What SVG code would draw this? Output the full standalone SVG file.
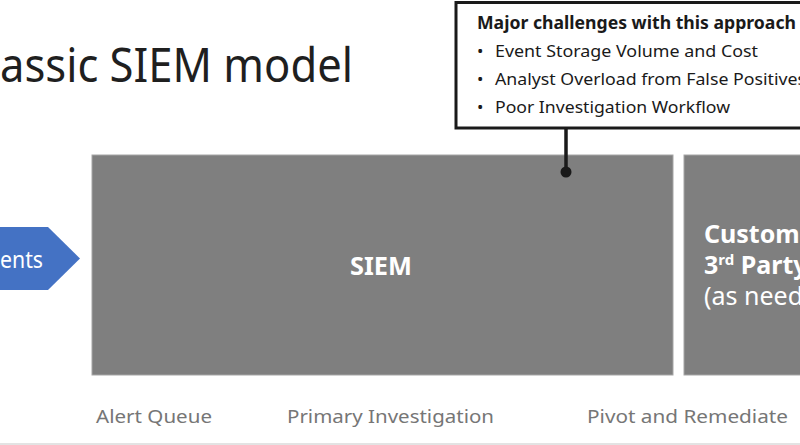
<svg xmlns="http://www.w3.org/2000/svg" width="800" height="445" viewBox="0 0 800 445">
<style>
text{font-family:"Noto Sans","Open Sans","DejaVu Sans",sans-serif}
.box{fill:#7f7f7f;stroke:#a6a6a6;stroke-width:1}
.wb{fill:#fff;font-weight:bold;font-size:25px}
.wr{fill:#fff;font-size:25px}
.lbl{fill:#767676;font-size:18.5px}
.ct{fill:#1a1a1a;font-size:17px}
</style>
<rect x="0" y="0" width="800" height="445" fill="#fff"/>
<line x1="0" y1="444" x2="800" y2="444" stroke="#e3e3e3" stroke-width="2"/>
<g id="title">
<text x="0" y="82" font-size="48" fill="#1f1f1f" textLength="353" lengthAdjust="spacingAndGlyphs">assic SIEM model</text>
</g>
<g id="events">
<polygon points="-5,227 48,227 80,258.5 48,290 -5,290" fill="#4472c4"/>
<text x="0" y="268" font-size="23" fill="#fff" textLength="43" lengthAdjust="spacingAndGlyphs">ents</text>
</g>
<g id="siem">
<rect class="box" x="92" y="155" width="581" height="220"/>
<text class="wb" x="381" y="275" text-anchor="middle" textLength="62" lengthAdjust="spacingAndGlyphs">SIEM</text>
</g>
<g id="customer">
<rect class="box" x="684" y="155" width="130" height="220"/>
<text class="wb" x="704" y="243">Custom</text>
<text class="wb" x="704" y="274">3<tspan font-size="15" dy="-9">rd</tspan><tspan dy="9"> Party</tspan></text>
<text class="wr" x="704" y="305">(as need</text>
</g>
<g id="challenges">
<rect x="456" y="2.5" width="360" height="125.5" fill="#fff" stroke="#1a1a1a" stroke-width="3"/>
<text class="ct" x="477" y="29" font-weight="bold" textLength="319" lengthAdjust="spacingAndGlyphs">Major challenges with this approach</text>
<text class="ct" x="477" y="57">•</text>
<text class="ct" x="495" y="57" textLength="263" lengthAdjust="spacingAndGlyphs">Event Storage Volume and Cost</text>
<text class="ct" x="477" y="85">•</text>
<text class="ct" x="495" y="85" textLength="311" lengthAdjust="spacingAndGlyphs">Analyst Overload from False Positives</text>
<text class="ct" x="477" y="113">•</text>
<text class="ct" x="495" y="113" textLength="235" lengthAdjust="spacingAndGlyphs">Poor Investigation Workflow</text>
</g>
<g id="connectors">
<line x1="566" y1="128" x2="566" y2="172" stroke="#1a1a1a" stroke-width="3.5"/>
<circle cx="566" cy="172" r="5.5" fill="#1a1a1a"/>
</g>
<g id="labels">
<text class="lbl" x="96" y="423" textLength="116" lengthAdjust="spacingAndGlyphs">Alert Queue</text>
<text class="lbl" x="287" y="423" textLength="207" lengthAdjust="spacingAndGlyphs">Primary Investigation</text>
<text class="lbl" x="587" y="423" textLength="201" lengthAdjust="spacingAndGlyphs">Pivot and Remediate</text>
</g>
</svg>
